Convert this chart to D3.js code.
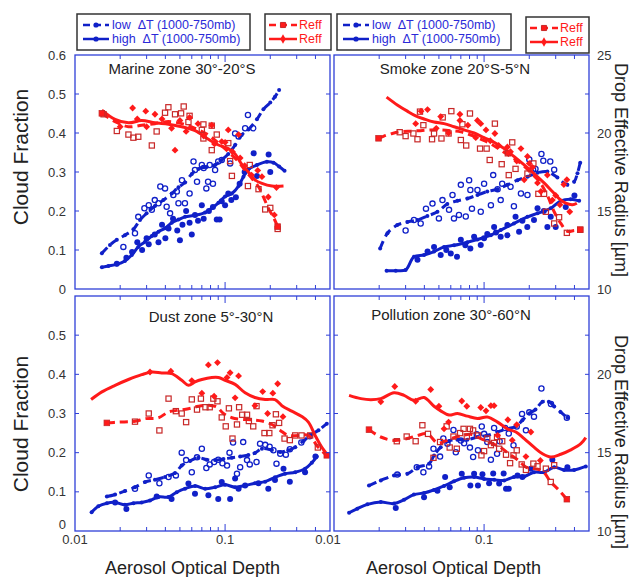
<!DOCTYPE html>
<html>
<head>
<meta charset="utf-8">
<script src="https://cdn.jsdelivr.net/npm/d3@7"></script>
<style>
  body { margin: 0; background: #fff; }
  text { font-family: "Liberation Sans", Arial, sans-serif; }
</style>
</head>
<body>
<svg id="chart" width="635" height="577"></svg>
<script>
// [aerosol optical depth, cloud fraction]  /  [aod, Reff in µm]
const marineHighLine = [[0.0151,0.056],[0.0167,0.059],[0.019,0.063],[0.0215,0.072],[0.0239,0.087],[0.0264,0.108],[0.0293,0.121],[0.0325,0.136],[0.036,0.147],[0.0398,0.156],[0.0441,0.17],[0.0489,0.178],[0.0541,0.185],[0.0631,0.189],[0.0736,0.196],[0.0815,0.207],[0.0903,0.221],[0.1,0.237],[0.111,0.245],[0.123,0.264],[0.1325,0.288],[0.143,0.307],[0.163,0.318],[0.19,0.326],[0.21,0.324],[0.229,0.314],[0.249,0.303]]
const marineHighPts = [[0.019,0.065],[0.022,0.08],[0.024,0.095],[0.026,0.12],[0.028,0.1],[0.03,0.13],[0.031,0.115],[0.034,0.14],[0.036,0.12],[0.038,0.165],[0.04,0.13],[0.042,0.155],[0.045,0.18],[0.048,0.15],[0.05,0.125],[0.052,0.165],[0.055,0.2],[0.058,0.17],[0.06,0.14],[0.063,0.19],[0.066,0.175],[0.07,0.215],[0.072,0.18],[0.078,0.2],[0.083,0.21],[0.088,0.178],[0.092,0.178],[0.095,0.225],[0.1,0.215],[0.105,0.245],[0.11,0.228],[0.118,0.235],[0.125,0.27],[0.135,0.3],[0.155,0.348],[0.163,0.29],[0.195,0.345],[0.2,0.3]]
const marineLowLine = [[0.0151,0.0915],[0.0171,0.113],[0.019,0.126],[0.0215,0.138],[0.0245,0.153],[0.0271,0.177],[0.03,0.194],[0.0341,0.213],[0.0388,0.228],[0.0441,0.245],[0.0489,0.261],[0.0541,0.273],[0.06,0.295],[0.0664,0.308],[0.0755,0.313],[0.0858,0.318],[0.095,0.331],[0.105,0.346],[0.1166,0.369],[0.129,0.395],[0.143,0.409],[0.163,0.435],[0.18,0.461],[0.2,0.478],[0.215,0.493],[0.229,0.51]]
const marineLowPts = [[0.021,0.108],[0.0251,0.143],[0.0264,0.185],[0.029,0.207],[0.031,0.215],[0.0325,0.203],[0.034,0.228],[0.036,0.22],[0.037,0.263],[0.0398,0.258],[0.0408,0.211],[0.043,0.194],[0.0452,0.241],[0.0477,0.25],[0.0489,0.22],[0.0516,0.279],[0.054,0.22],[0.058,0.245],[0.0616,0.327],[0.063,0.305],[0.065,0.275],[0.07,0.318],[0.072,0.31],[0.075,0.258],[0.077,0.275],[0.079,0.318],[0.083,0.27],[0.0858,0.305],[0.09,0.327],[0.095,0.331],[0.108,0.322],[0.1166,0.399],[0.123,0.391],[0.136,0.412],[0.142,0.446],[0.154,0.412]]
const marineReffLowLine = [[0.0151,21.26],[0.0185,20.73],[0.0227,20.4],[0.0278,20.5],[0.0341,20.6],[0.0419,20.73],[0.0514,20.6],[0.0631,20.3],[0.0774,19.87],[0.0903,19.35],[0.105,18.8],[0.123,18.15],[0.136,17.6],[0.1506,17.1],[0.167,16.55],[0.18,15.9],[0.1945,15.17],[0.21,14.6],[0.224,14.0]]
const marineReffLowPts = [[0.0155,21.2],[0.019,20.13],[0.0227,19.9],[0.0245,19.7],[0.0264,19.76],[0.0325,19.2],[0.035,20.1],[0.0398,21.3],[0.0419,21.65],[0.0464,21.2],[0.053,21.7],[0.0509,21.26],[0.058,21.1],[0.057,20.7],[0.0717,20.55],[0.0815,20.47],[0.07,20.2],[0.0717,19.65],[0.0815,18.9],[0.088,19.9],[0.105,19.35],[0.108,18.2],[0.111,17.25],[0.146,17.95],[0.142,16.6],[0.167,16.4],[0.185,15.1],[0.2,15.2],[0.224,13.85]]
const marineReffHighLine = [[0.0151,21.47],[0.0185,20.87],[0.0227,20.65],[0.0278,20.8],[0.0341,20.65],[0.0419,20.56],[0.0514,20.4],[0.0631,20.15],[0.0774,19.6],[0.0903,19.23],[0.105,19.0],[0.1166,18.65],[0.129,18.0],[0.143,17.5],[0.158,17.0],[0.176,16.77],[0.205,16.6],[0.245,16.6]]
const marineReffHighPts = [[0.0242,21.6],[0.0296,21.4],[0.0341,21.2],[0.0464,18.9],[0.058,21.0],[0.0815,20.5],[0.105,20.2],[0.123,19.9],[0.126,18.4],[0.176,17.2],[0.194,15.9],[0.213,14.75],[0.095,19.45],[0.02,20.4],[0.026,20.9],[0.03,20.4],[0.038,20.9],[0.044,20.3],[0.05,20.8],[0.055,20.1],[0.066,20.6],[0.072,19.8],[0.085,19.3],[0.1,19.4],[0.112,18.8],[0.135,17.9],[0.15,17.3],[0.165,17.6],[0.22,16.5]]

const smokeHighLine = [[0.0224,0.047],[0.0258,0.047],[0.03,0.049],[0.0341,0.083],[0.0398,0.087],[0.0464,0.096],[0.0541,0.108],[0.0631,0.112],[0.0774,0.12],[0.0903,0.127],[0.111,0.138],[0.129,0.151],[0.158,0.168],[0.1945,0.185],[0.227,0.194],[0.278,0.207],[0.3245,0.226],[0.378,0.23],[0.43,0.226]]
const smokeHighPts = [[0.066,0.083],[0.081,0.104],[0.095,0.113],[0.1166,0.159],[0.143,0.138],[0.171,0.147],[0.215,0.177],[0.227,0.207],[0.264,0.159],[0.3,0.159],[0.278,0.185],[0.194,0.159],[0.162,0.185],[0.0858,0.134],[0.105,0.141],[0.0464,0.108],[0.042,0.096],[0.06,0.091],[0.0514,0.087],[0.07,0.126],[0.129,0.134],[0.143,0.164],[0.036,0.075],[0.056,0.1],[0.075,0.112],[0.1,0.13],[0.12,0.145],[0.18,0.175],[0.25,0.2],[0.35,0.21],[0.4,0.24]]
const smokeLowLine = [[0.0203,0.104],[0.0227,0.143],[0.0264,0.164],[0.0308,0.172],[0.036,0.177],[0.0419,0.187],[0.0489,0.198],[0.0569,0.218],[0.0664,0.226],[0.0774,0.232],[0.0903,0.241],[0.105,0.25],[0.123,0.256],[0.143,0.267],[0.167,0.279],[0.1945,0.288],[0.227,0.298],[0.264,0.301],[0.308,0.286],[0.359,0.267],[0.398,0.275],[0.419,0.297],[0.437,0.324]]
const smokeLowPts = [[0.03,0.15],[0.0341,0.177],[0.0378,0.168],[0.041,0.206],[0.0453,0.219],[0.05,0.181],[0.0528,0.228],[0.0584,0.203],[0.0616,0.241],[0.063,0.181],[0.068,0.19],[0.07,0.267],[0.0755,0.186],[0.0795,0.279],[0.083,0.206],[0.095,0.198],[0.1,0.27],[0.111,0.215],[0.115,0.292],[0.123,0.256],[0.132,0.27],[0.15,0.262],[0.158,0.212],[0.176,0.245],[0.2,0.332],[0.212,0.306],[0.22,0.308],[0.241,0.346],[0.248,0.329],[0.276,0.327],[0.293,0.306],[0.1945,0.241],[0.129,0.228],[0.0903,0.254],[0.081,0.254]]
const smokeReffHighLine = [[0.0224,22.3],[0.0264,21.8],[0.0308,21.4],[0.035,21.1],[0.0398,20.9],[0.0464,20.7],[0.0541,20.6],[0.0631,20.4],[0.0736,20.2],[0.0858,20.0],[0.1,19.7],[0.1166,19.4],[0.136,19.0],[0.158,18.5],[0.185,17.95],[0.215,17.4],[0.251,16.8],[0.285,16.25],[0.316,15.8],[0.35,15.5],[0.388,15.4],[0.415,15.5]]
const smokeReffHighPts = [[0.035,20.6],[0.038,21.4],[0.042,21.5],[0.0514,21.05],[0.069,21.2],[0.069,20.8],[0.0903,20.8],[0.095,20.6],[0.118,19.97],[0.103,20.2],[0.143,19.1],[0.176,19.0],[0.1945,18.5],[0.2,18.05],[0.185,17.0],[0.227,16.8],[0.264,17.3],[0.356,17.0],[0.34,16.7],[0.372,14.95],[0.285,15.7],[0.239,16.25],[0.048,20.3],[0.058,20.0],[0.078,20.5],[0.088,19.7],[0.11,19.5],[0.125,19.2],[0.15,18.8],[0.165,18.2],[0.21,17.8],[0.3,16.0],[0.32,15.4]]
const smokeReffLowLine = [[0.0198,19.66],[0.0215,19.8],[0.0245,19.97],[0.0278,20.08],[0.0325,20.12],[0.0378,20.15],[0.0441,20.2],[0.0514,20.2],[0.06,20.15],[0.07,20.07],[0.0815,19.87],[0.095,19.6],[0.111,19.3],[0.129,18.9],[0.1506,18.5],[0.176,18.05],[0.205,17.45],[0.233,16.9],[0.264,16.0],[0.293,14.95],[0.3245,14.2],[0.359,13.7],[0.398,13.75],[0.437,13.8]]
const smokeReffLowPts = [[0.0274,20.05],[0.03,19.8],[0.0338,19.97],[0.036,19.6],[0.0374,21.37],[0.0394,20.5],[0.045,19.6],[0.0464,19.97],[0.052,19.65],[0.053,21.0],[0.0605,21.4],[0.058,19.97],[0.07,19.55],[0.076,19.2],[0.0805,21.25],[0.0717,20.56],[0.094,19.0],[0.104,19.0],[0.118,20.6],[0.109,18.27],[0.131,18.0],[0.146,17.3],[0.154,19.4],[0.162,17.7],[0.144,18.7],[0.213,18.05],[0.1945,17.4],[0.23,16.1],[0.251,16.1],[0.258,14.95],[0.293,14.2],[0.316,14.6],[0.356,13.6],[0.437,13.8]]

const dustHighLine = [[0.0129,0.048],[0.0143,0.063],[0.0163,0.071],[0.0185,0.073],[0.0215,0.067],[0.0245,0.071],[0.0278,0.073],[0.0316,0.078],[0.036,0.087],[0.0419,0.087],[0.0476,0.099],[0.0541,0.108],[0.0631,0.115],[0.0736,0.108],[0.0858,0.112],[0.1,0.118],[0.1166,0.112],[0.136,0.116],[0.158,0.122],[0.185,0.126],[0.215,0.137],[0.251,0.146],[0.293,0.15],[0.341,0.159],[0.378,0.174],[0.408,0.19]]
const dustHighPts = [[0.0185,0.073],[0.022,0.056],[0.035,0.088],[0.044,0.082],[0.057,0.121],[0.0774,0.091],[0.09,0.082],[0.108,0.082],[0.095,0.125],[0.1166,0.134],[0.123,0.108],[0.194,0.108],[0.245,0.159],[0.27,0.126],[0.4,0.19],[0.167,0.122],[0.063,0.095],[0.136,0.116],[0.215,0.13],[0.341,0.15]]
const dustLowLine = [[0.0163,0.088],[0.0185,0.093],[0.0215,0.102],[0.0251,0.112],[0.0293,0.125],[0.0341,0.131],[0.0398,0.138],[0.0464,0.148],[0.0514,0.167],[0.0584,0.179],[0.0664,0.187],[0.0755,0.182],[0.0858,0.181],[0.0975,0.184],[0.111,0.187],[0.126,0.19],[0.143,0.194],[0.158,0.199],[0.176,0.21],[0.205,0.207],[0.233,0.202],[0.264,0.206],[0.293,0.214],[0.333,0.23],[0.369,0.244],[0.419,0.257],[0.476,0.274]]
const dustLowPts = [[0.0251,0.108],[0.031,0.142],[0.0365,0.122],[0.042,0.138],[0.047,0.142],[0.0514,0.2],[0.055,0.181],[0.06,0.15],[0.065,0.188],[0.07,0.21],[0.075,0.161],[0.079,0.17],[0.0845,0.176],[0.09,0.182],[0.096,0.173],[0.103,0.167],[0.107,0.2],[0.113,0.226],[0.12,0.146],[0.126,0.163],[0.132,0.227],[0.14,0.181],[0.146,0.17],[0.162,0.176],[0.171,0.223],[0.185,0.22],[0.198,0.215],[0.21,0.206],[0.22,0.172],[0.233,0.197],[0.254,0.195],[0.27,0.209],[0.322,0.226],[0.366,0.242]]
const dustReffHighLine = [[0.0128,18.39],[0.0151,18.88],[0.0185,19.3],[0.0227,19.67],[0.0278,19.98],[0.0325,20.15],[0.0378,20.09],[0.0441,20.05],[0.0514,19.62],[0.057,19.3],[0.0631,19.52],[0.07,19.67],[0.0815,19.8],[0.0903,19.8],[0.1,19.62],[0.1166,19.36],[0.136,18.82],[0.158,18.52],[0.185,18.39],[0.215,18.39],[0.239,18.0],[0.278,17.65],[0.3245,17.31],[0.359,16.95],[0.398,16.1],[0.437,15.4],[0.483,14.83]]
const dustReffHighPts = [[0.0774,20.6],[0.089,20.75],[0.108,20.1],[0.123,19.9],[0.07,18.8],[0.0845,18.6],[0.1166,18.5],[0.158,18.0],[0.178,18.9],[0.208,18.8],[0.224,19.4],[0.192,17.5],[0.243,17.3],[0.0435,20.2],[0.0316,20.15],[0.06,19.6],[0.103,19.8]]
const dustReffLowLine = [[0.0163,16.9],[0.0195,16.95],[0.0251,17.0],[0.0293,17.17],[0.036,17.23],[0.0419,17.6],[0.0476,17.7],[0.057,17.8],[0.0664,17.96],[0.0774,18.03],[0.088,17.92],[0.0975,17.5],[0.111,17.23],[0.129,17.13],[0.1506,17.1],[0.176,17.02],[0.205,16.8],[0.233,16.42],[0.264,16.1],[0.308,16.1],[0.359,16.1],[0.419,15.33],[0.476,14.83]]
const dustReffLowPts = [[0.0251,16.98],[0.031,17.5],[0.0365,16.42],[0.042,18.45],[0.047,17.65],[0.0514,17.5],[0.055,16.95],[0.06,18.4],[0.065,17.75],[0.069,18.45],[0.074,17.9],[0.079,17.9],[0.0835,18.45],[0.089,18.28],[0.095,17.25],[0.101,16.68],[0.106,17.83],[0.112,15.9],[0.12,16.8],[0.124,17.9],[0.13,17.42],[0.14,17.42],[0.144,17.02],[0.154,16.68],[0.162,17.97],[0.183,16.25],[0.197,16.25],[0.207,16.75],[0.218,17.45],[0.229,16.9],[0.249,15.9],[0.27,15.8],[0.293,16.1],[0.323,16.1],[0.369,16.1],[0.415,15.33]]

const pollHighLine = [[0.0126,0.0465],[0.0143,0.057],[0.0167,0.068],[0.0205,0.074],[0.0251,0.07],[0.0293,0.08],[0.0341,0.093],[0.0398,0.097],[0.0464,0.105],[0.0541,0.115],[0.0631,0.127],[0.0736,0.136],[0.0858,0.138],[0.1,0.133],[0.1166,0.131],[0.136,0.129],[0.158,0.138],[0.185,0.139],[0.215,0.15],[0.251,0.15],[0.293,0.163],[0.341,0.156],[0.398,0.156],[0.476,0.165]]
const pollHighPts = [[0.0258,0.059],[0.0398,0.086],[0.0489,0.103],[0.055,0.138],[0.059,0.112],[0.071,0.146],[0.081,0.116],[0.0858,0.146],[0.091,0.116],[0.0975,0.145],[0.108,0.122],[0.115,0.147],[0.126,0.121],[0.135,0.147],[0.14,0.108],[0.146,0.108],[0.167,0.142],[0.18,0.138],[0.205,0.159],[0.285,0.182],[0.359,0.163]]
const pollLowLine = [[0.0171,0.116],[0.0205,0.129],[0.0251,0.142],[0.0308,0.146],[0.036,0.163],[0.043,0.172],[0.0464,0.193],[0.0514,0.214],[0.0584,0.23],[0.0664,0.233],[0.0774,0.233],[0.0903,0.24],[0.105,0.244],[0.123,0.253],[0.143,0.261],[0.163,0.267],[0.18,0.283],[0.2,0.3],[0.22,0.31],[0.245,0.33],[0.27,0.33],[0.293,0.318],[0.323,0.304],[0.359,0.289]]
const pollLowPts = [[0.0264,0.144],[0.0356,0.163],[0.0394,0.15],[0.043,0.165],[0.046,0.21],[0.0509,0.19],[0.0535,0.236],[0.057,0.223],[0.0625,0.258],[0.0648,0.201],[0.07,0.231],[0.0736,0.224],[0.0805,0.213],[0.0845,0.189],[0.0893,0.247],[0.091,0.206],[0.0965,0.267],[0.1,0.248],[0.105,0.227],[0.111,0.182],[0.1166,0.263],[0.122,0.197],[0.127,0.229],[0.138,0.263],[0.146,0.249],[0.157,0.219],[0.165,0.267],[0.179,0.299],[0.19,0.257],[0.2,0.303],[0.215,0.292],[0.241,0.364],[0.279,0.324],[0.356,0.289]]
const pollReffHighLine = [[0.0126,18.66],[0.0151,18.45],[0.0176,18.38],[0.0205,18.45],[0.0251,18.82],[0.0293,18.66],[0.0341,18.34],[0.0398,18.52],[0.0464,17.96],[0.0514,17.67],[0.0584,17.4],[0.0664,17.5],[0.0774,17.33],[0.0903,17.18],[0.105,17.28],[0.123,16.95],[0.143,16.52],[0.163,16.32],[0.185,15.9],[0.215,15.35],[0.245,14.93],[0.278,14.72],[0.3245,14.9],[0.378,15.18],[0.441,15.57],[0.476,15.96]]
const pollReffHighPts = [[0.0205,18.25],[0.0254,19.22],[0.035,18.28],[0.0441,19.03],[0.05,17.96],[0.0541,16.52],[0.058,16.95],[0.071,18.3],[0.0767,17.96],[0.095,17.88],[0.103,17.67],[0.111,18.0],[0.1166,18.0],[0.144,17.1],[0.165,16.78],[0.19,14.75],[0.205,16.32],[0.237,14.5],[0.154,15.8],[0.123,16.1]]
const pollReffLowLine = [[0.0171,16.47],[0.0205,16.0],[0.0251,15.78],[0.0308,15.9],[0.036,16.1],[0.0419,16.2],[0.0489,15.62],[0.0555,15.75],[0.0631,15.96],[0.0717,16.1],[0.0815,16.17],[0.095,15.9],[0.111,15.62],[0.129,15.33],[0.146,14.93],[0.167,14.55],[0.19,14.08],[0.215,13.98],[0.245,13.83],[0.278,13.13],[0.316,12.6],[0.356,12.03]]
const pollReffLowPts = [[0.0262,15.73],[0.0305,16.03],[0.035,15.73],[0.0388,16.75],[0.0423,16.2],[0.046,14.67],[0.0509,15.68],[0.0563,16.68],[0.059,15.33],[0.0625,16.03],[0.0658,15.25],[0.0692,16.25],[0.073,16.52],[0.0767,16.03],[0.0805,16.52],[0.0845,16.42],[0.0912,16.1],[0.096,14.83],[0.1,15.1],[0.105,15.9],[0.111,15.48],[0.1166,15.62],[0.122,16.0],[0.126,15.25],[0.132,15.73],[0.14,14.87],[0.149,14.33],[0.157,14.83],[0.165,15.15],[0.178,14.25],[0.19,13.9],[0.213,14.3],[0.227,14.13],[0.258,13.98],[0.278,13.13],[0.293,14.2]]

const cfTicks = [0, 0.1, 0.2, 0.3, 0.4, 0.5, 0.6]
const reffTicks = [10, 15, 20, 25]
const aodMinor = [0.02,0.03,0.04,0.05,0.06,0.07,0.08,0.09,0.2,0.3,0.4]
const aodLabels = [0.01, 0.1]

const BLUE = '#1020c8', RED = '#ff1a1a', DRED = '#c82828', FRAME = '#2f3fd8', LABEL = '#333'

const svg = d3.select('#chart')
const colX = [[75, 330], [334, 589]],
      rowY = [[55, 289], [296, 531]]

const panels = [
  {title: 'Marine zone 30°-20°S', col: 0, row: 0, tx: 182, ty: 74,
   hi: marineHighLine, hiP: marineHighPts, lo: marineLowLine, loP: marineLowPts,
   rh: marineReffHighLine, rhP: marineReffHighPts, rl: marineReffLowLine, rlP: marineReffLowPts},
  {title: 'Smoke zone 20°S-5°N', col: 1, row: 0, tx: 455, ty: 74,
   hi: smokeHighLine, hiP: smokeHighPts, lo: smokeLowLine, loP: smokeLowPts,
   rh: smokeReffHighLine, rhP: smokeReffHighPts, rl: smokeReffLowLine, rlP: smokeReffLowPts},
  {title: 'Dust zone 5°-30°N', col: 0, row: 1, tx: 211, ty: 322,
   hi: dustHighLine, hiP: dustHighPts, lo: dustLowLine, loP: dustLowPts,
   rh: dustReffHighLine, rhP: dustReffHighPts, rl: dustReffLowLine, rlP: dustReffLowPts},
  {title: 'Pollution zone 30°-60°N', col: 1, row: 1, tx: 451, ty: 320,
   hi: pollHighLine, hiP: pollHighPts, lo: pollLowLine, loP: pollLowPts,
   rh: pollReffHighLine, rhP: pollReffHighPts, rl: pollReffLowLine, rlP: pollReffLowPts}
]

const sym = (type, size) => d3.symbol().type(type).size(size)()

panels.forEach((p, i) => {
  const [x0, x1] = colX[p.col], [y0, y1] = rowY[p.row]
  const x = d3.scaleLog().domain([0.01, 0.5]).range([x0, x1]),
        cf = d3.scaleLinear().domain([0, 0.6]).range([y1, y0]),
        re = d3.scaleLinear().domain([10, 25]).range([y1, y0])

  svg.append('clipPath').attr('id', 'clip' + i)
     .append('rect').attr('x', x0).attr('y', y0).attr('width', x1 - x0).attr('height', y1 - y0)
  const g = svg.append('g').attr('clip-path', `url(#clip${i})`)

  const line = ys => d3.line().x(d => x(d[0])).y(d => ys(d[1])).curve(d3.curveCatmullRom.alpha(0.5))

  // blue: cloud fraction
  g.append('path').datum(p.lo).attr('d', line(cf))
   .attr('fill', 'none').attr('stroke', BLUE).attr('stroke-width', 3).attr('stroke-dasharray', '8,5')
  g.append('path').datum(p.hi).attr('d', line(cf))
   .attr('fill', 'none').attr('stroke', BLUE).attr('stroke-width', 3)
  g.selectAll('.lov').data(p.lo.concat(p.hi)).join('circle')
   .attr('cx', d => x(d[0])).attr('cy', d => cf(d[1])).attr('r', 2).attr('fill', BLUE)
  g.selectAll('.lop').data(p.loP).join('circle')
   .attr('cx', d => x(d[0])).attr('cy', d => cf(d[1])).attr('r', 2.6)
   .attr('fill', 'none').attr('stroke', BLUE).attr('stroke-width', 1.3)
  g.selectAll('.hip').data(p.hiP).join('circle')
   .attr('cx', d => x(d[0])).attr('cy', d => cf(d[1])).attr('r', 3).attr('fill', BLUE)

  // red: effective radius
  g.append('path').datum(p.rl).attr('d', line(re))
   .attr('fill', 'none').attr('stroke', RED).attr('stroke-width', 3).attr('stroke-dasharray', '8,5')
  g.append('path').datum(p.rh).attr('d', line(re))
   .attr('fill', 'none').attr('stroke', RED).attr('stroke-width', 3)
  g.selectAll('.rlp').data(p.rlP).join('rect')
   .attr('x', d => x(d[0]) - 2.6).attr('y', d => re(d[1]) - 2.6).attr('width', 5.2).attr('height', 5.2)
   .attr('fill', 'none').attr('stroke', DRED).attr('stroke-width', 1.2)
  g.selectAll('.rlend').data([p.rl[0], p.rl[p.rl.length - 1]]).join('rect')
   .attr('x', d => x(d[0]) - 2.8).attr('y', d => re(d[1]) - 2.8).attr('width', 5.6).attr('height', 5.6)
   .attr('fill', RED).attr('stroke', DRED).attr('stroke-width', 0.8)
  g.selectAll('.rhp').data(p.rhP).join('path')
   .attr('d', sym(d3.symbolDiamond2, 30))
   .attr('transform', d => `translate(${x(d[0])},${re(d[1])})`).attr('fill', RED)

  // frame and ticks
  svg.append('rect').attr('x', x0).attr('y', y0).attr('width', x1 - x0).attr('height', y1 - y0)
     .attr('fill', 'none').attr('stroke', FRAME).attr('stroke-width', 1.3)

  const tk = svg.append('g').attr('stroke', FRAME).attr('stroke-width', 1)
  aodMinor.concat([0.1]).forEach(v => {
    const len = v === 0.1 ? 7 : 4
    tk.append('line').attr('x1', x(v)).attr('x2', x(v)).attr('y1', y1).attr('y2', y1 - len)
    tk.append('line').attr('x1', x(v)).attr('x2', x(v)).attr('y1', y0).attr('y2', y0 + len)
  })
  cfTicks.slice(1, -1).forEach(v => {
    tk.append('line').attr('x1', x0).attr('x2', x0 + 4).attr('y1', cf(v)).attr('y2', cf(v))
    tk.append('line').attr('x1', x1).attr('x2', x1 - 4).attr('y1', cf(v)).attr('y2', cf(v))
  })

  // tick labels
  if (p.col === 0) {
    svg.selectAll(null).data(p.row === 0 ? cfTicks : cfTicks.slice(0, -1)).join('text')
       .attr('x', 66).attr('y', d => (p.row === 1 && d === 0) ? cf(d) - 7 : cf(d))
       .attr('dy', '0.35em').attr('text-anchor', 'end')
       .attr('font-size', 13).attr('fill', LABEL).text(d => d3.format('.1~f')(d))
  } else {
    svg.selectAll(null).data(p.row === 0 ? reffTicks : reffTicks.slice(0, -1)).join('text')
       .attr('x', 597).attr('y', d => re(d)).attr('dy', '0.35em')
       .attr('font-size', 13).attr('fill', LABEL).text(d => d)
  }
  if (p.row === 1) {
    svg.selectAll(null).data(aodLabels).join('text')
       .attr('x', d => (p.col === 1 && d === 0.01) ? x(d) - 6 : x(d)).attr('y', 544)
       .attr('text-anchor', 'middle').attr('font-size', 13).attr('fill', LABEL)
       .text(d => d)
    svg.append('text').attr('x', (x0 + x1) / 2 + (p.col === 0 ? -10 : -8)).attr('y', 574)
       .attr('text-anchor', 'middle').attr('font-size', 18).attr('fill', '#222')
       .text('Aerosol Optical Depth')
  }

  svg.append('text').attr('x', p.tx).attr('y', p.ty).attr('text-anchor', 'middle')
     .attr('font-size', 15).attr('fill', '#222').text(p.title)
})

// axis titles
;[157, 424].forEach(cy => {
  svg.append('text').attr('transform', `translate(28,${cy}) rotate(-90)`)
     .attr('text-anchor', 'middle').attr('font-size', 21).attr('fill', '#222').text('Cloud Fraction')
})
;[170, 442].forEach(cy => {
  svg.append('text').attr('transform', `translate(615,${cy}) rotate(90)`)
     .attr('text-anchor', 'middle').attr('font-size', 18).attr('fill', '#222').text('Drop Effective Radius [µm]')
})

// legends
function blueLegend(bx, by, bw) {
  const lg = svg.append('g')
  lg.append('rect').attr('x', bx).attr('y', by).attr('width', bw).attr('height', 36)
    .attr('fill', '#fff').attr('stroke', '#333').attr('stroke-width', 1.5)
  const rows = [{y: by + 11, dash: '7,4', label: 'low  ΔT (1000-750mb)'},
                {y: by + 25, dash: null, label: 'high  ΔT (1000-750mb)'}]
  rows.forEach(r => {
    lg.append('line').attr('x1', bx + 6).attr('x2', bx + 32).attr('y1', r.y).attr('y2', r.y)
      .attr('stroke', BLUE).attr('stroke-width', 2.5).attr('stroke-dasharray', r.dash)
    lg.append('circle').attr('cx', bx + 19).attr('cy', r.y).attr('r', 2.6).attr('fill', BLUE)
    lg.append('text').attr('x', bx + 35).attr('y', r.y + 4.3).attr('font-size', 12.5)
      .style('white-space', 'pre').attr('fill', '#2a2ad8').text(r.label)
  })
}
function redLegend(bx, by, bw) {
  const lg = svg.append('g')
  lg.append('rect').attr('x', bx).attr('y', by).attr('width', bw).attr('height', 36)
    .attr('fill', '#fff').attr('stroke', '#333').attr('stroke-width', 1.5)
  const rows = [{y: by + 11, dash: '7,4', s: d3.symbolSquare},
                {y: by + 25, dash: null, s: d3.symbolDiamond}]
  rows.forEach(r => {
    lg.append('line').attr('x1', bx + 4).attr('x2', bx + 32).attr('y1', r.y).attr('y2', r.y)
      .attr('stroke', RED).attr('stroke-width', 2.5).attr('stroke-dasharray', r.dash)
    lg.append('path').attr('d', sym(r.s, 26)).attr('transform', `translate(${bx + 18},${r.y})`)
      .attr('fill', RED).attr('stroke', r.s === d3.symbolSquare ? DRED : 'none')
    lg.append('text').attr('x', bx + 34).attr('y', r.y + 4.3).attr('font-size', 12.5)
      .attr('fill', RED).text('Reff')
  })
}
blueLegend(77, 14, 173)
redLegend(265, 14, 66)
blueLegend(337, 14, 174)
redLegend(526, 17, 63)
</script>
</body>
</html>
